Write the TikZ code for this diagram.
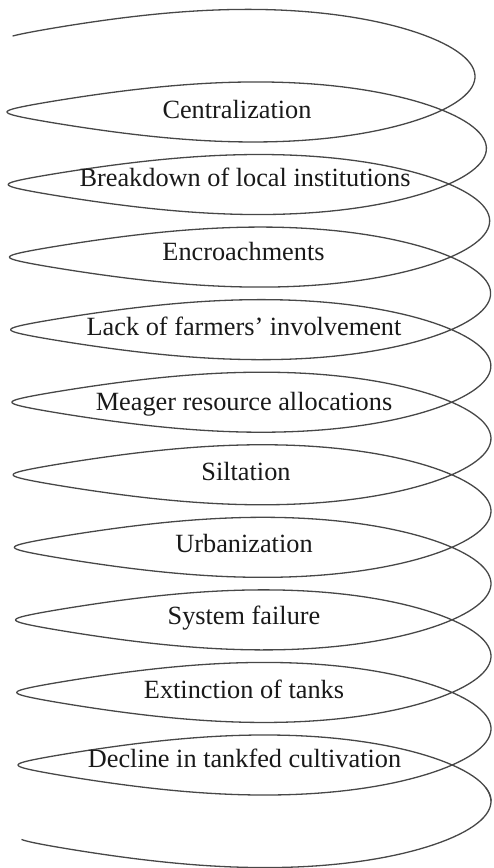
\documentclass[tikz,border=0pt]{standalone}
\usepackage{fontspec}
\setmainfont{Liberation Serif}
\begin{document}
\begin{tikzpicture}[x=1pt,y=-1pt,
  declare function={
    lft(\u)=5.8+1.22*\u;
    rgt(\u)=491-16*exp(-min((\u-0.5)/0.8,9));
    coilx(\t)=0.5*(lft(\t/360)+rgt(\t/360))-0.5*(rgt(\t/360)-lft(\t/360))*cos(\t);
    coily(\t)=39.4+72.56*(\t/360)-45.85*sin(\t)+7.229*sin(2*\t)+2.253*sin(3*\t);
  },
  coil/.style={draw=black!72,line width=1.3pt,line join=round},
  label/.style={anchor=base,text=black!90,font=\fontsize{26.3}{30}\selectfont,inner sep=0pt}]
\useasboundingbox (0,0) rectangle (493,868);
\clip (0,0) rectangle (493,868);

% the coil: one continuous helix seen side-on, pointed at the left, eleven turns
\draw[coil] plot[domain=14:3952,samples=1500,variable=\t] ({coilx(\t)},{coily(\t)});
% start of the next turn, cut off at the lower edge
\draw[coil] plot[domain=3768:3780,samples=10,variable=\t] ({coilx(\t)},{coily(\t)});

% causes, one per loop
\node[label] (c1)  at (237,118)   {Centralization};
\node[label] (c2)  at (245,186)   {Breakdown of local institutions};
\node[label] (c3)  at (243.5,260) {Encroachments};
\node[label] (c4)  at (244,335.5) {Lack of farmers’ involvement};
\node[label] (c5)  at (244,410)   {Meager resource allocations};
\node[label] (c6)  at (246,480)   {Siltation};
\node[label] (c7)  at (244,552)   {Urbanization};
\node[label] (c8)  at (244,624)   {System failure};
\node[label] (c9)  at (244,698)   {Extinction of tanks};
\node[label] (c10) at (244.5,767) {Decline in tankfed cultivation};
\end{tikzpicture}
\end{document}
